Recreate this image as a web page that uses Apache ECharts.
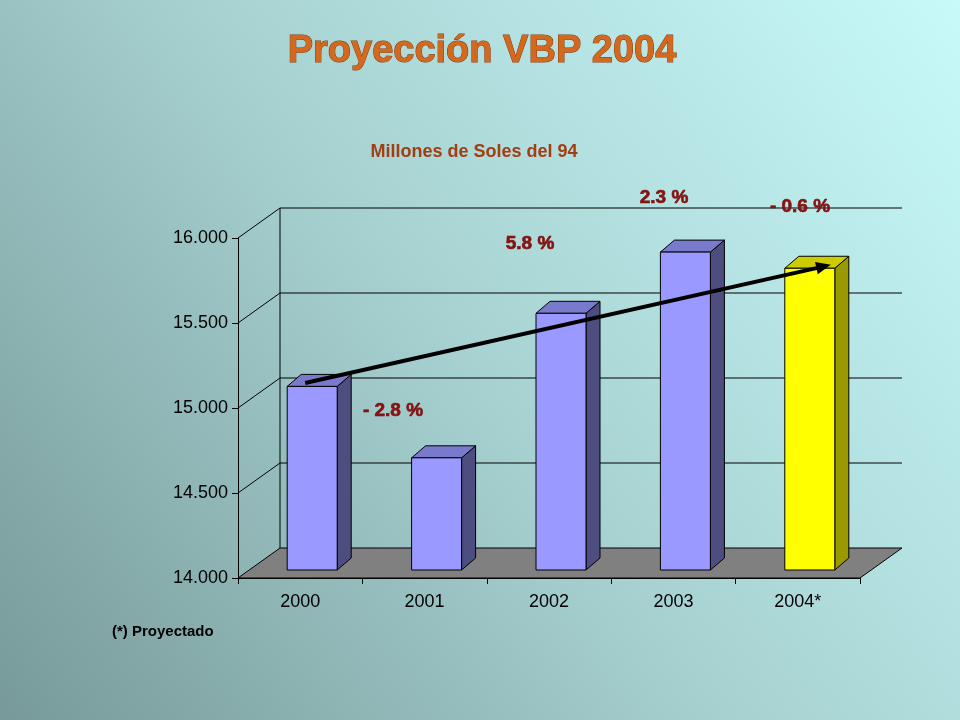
<!DOCTYPE html><html><head><meta charset="utf-8">
<script src="https://cdn.jsdelivr.net/npm/echarts@6/dist/echarts.min.js"></script>
<style>html,body{margin:0;padding:0}#c{width:960px;height:720px}</style></head><body><div id="c"></div>
<script>
const categories=['2000','2001','2002','2003','2004*'];
const values=[15080,14660,15510,15870,15775];
const pctLabels=['- 2.8 %','5.8 %','2.3 %','- 0.6 %'];
const arrowValues=[15100,15795];
const yTicks=[14000,14500,15000,15500,16000];
const chart=echarts.init(document.getElementById('c'));
const DX=42,DY=-30,BX=14,BY=-12,SH=-8;
function wall(params,api){
  const ch=[];
  const x0=api.coord([0,14000])[0]-api.size([1,0])[0]/2;
  const x1=x0+api.size([1,0])[0]*5;
  yTicks.forEach(t=>{
    const y=api.coord([0,t])[1];
    if(t>14000){
      ch.push({type:'polyline',shape:{points:[[x0,y],[x0+DX,y+DY],[x1+DX,y+DY]]},style:{stroke:'#000',lineWidth:1,fill:null}});
    }
  });
  const yb=api.coord([0,14000])[1], yt=api.coord([0,16000])[1];
  ch.unshift({type:'polygon',shape:{points:[[x0,yb],[x1,yb],[x1+DX,yb+DY],[x0+DX,yb+DY]]},style:{fill:'#808080',stroke:'#000',lineWidth:1}});
  ch.push({type:'line',shape:{x1:x0+DX,y1:yb+DY,x2:x0+DX,y2:yt+DY},style:{stroke:'#000',lineWidth:1}});
  return {type:'group',children:ch};
}
function bar(params,api){
  const i=api.value(0),v=api.value(1);
  const c=api.coord([i,v]),b=api.coord([i,14000]);
  const w=50,x=c[0]-13,yt=c[1]+SH,yb=b[1]+SH;
  const yellow=i===4;
  const front=yellow?'#ffff00':'#9999ff',side=yellow?'#999900':'#4d4d80',top=yellow?'#cccc00':'#7a7acc';
  return {type:'group',children:[
    {type:'polygon',shape:{points:[[x+w,yt],[x+w+BX,yt+BY],[x+w+BX,yb+BY],[x+w,yb]]},style:{fill:side,stroke:'#000',lineWidth:1}},
    {type:'polygon',shape:{points:[[x,yt],[x+BX,yt+BY],[x+w+BX,yt+BY],[x+w,yt]]},style:{fill:top,stroke:'#000',lineWidth:1}},
    {type:'rect',shape:{x:x,y:yt,width:w,height:yb-yt},style:{fill:front,stroke:'#000',lineWidth:1}}
  ]};
}
function arrow(params,api){
  const a=api.coord([0,arrowValues[0]]),b=api.coord([4,arrowValues[1]]);
  const p1=[a[0]+5,a[1]+SH],p2=[b[0]+33,b[1]+SH];
  const ang=Math.atan2(p2[1]-p1[1],p2[0]-p1[0]),L=16,s=0.4;
  return {type:'group',children:[
    {type:'line',shape:{x1:p1[0],y1:p1[1],x2:p2[0]-8*Math.cos(ang),y2:p2[1]-8*Math.sin(ang)},style:{stroke:'#000',lineWidth:4}},
    {type:'polygon',shape:{points:[p2,[p2[0]-L*Math.cos(ang-s),p2[1]-L*Math.sin(ang-s)],[p2[0]-L*Math.cos(ang+s),p2[1]-L*Math.sin(ang+s)]]},style:{fill:'#000'}}
  ]};
}
const pctStyle={fill:'#8b1010',font:'bold 19px Arial, "Liberation Sans"',stroke:'#6a0a0a',lineWidth:0.6,textShadowColor:'rgba(40,20,20,0.55)',textShadowOffsetX:2,textShadowOffsetY:2,textShadowBlur:0,textAlign:'center',textVerticalAlign:'middle'};
const pctPos=[[393,411],[530,244],[664,198],[800,207]];
chart.setOption({
  backgroundColor:{type:'linear',x:1,y:0,x2:0,y2:1,colorStops:[{offset:0,color:'#c8fafa'},{offset:0.5,color:'#a8d2d2'},{offset:1,color:'#779999'}]},
  animation:false,
  grid:{left:238,right:100,top:238,bottom:142},
  xAxis:{type:'category',data:categories,axisLine:{lineStyle:{color:'#000'}},axisTick:{show:true,length:6,lineStyle:{color:'#000'}},
    axisLabel:{color:'#000',fontSize:18,fontFamily:'Arial, "Liberation Sans"',margin:15}},
  yAxis:{type:'value',min:14000,max:16000,interval:500,splitLine:{show:false},
    axisLine:{show:true,lineStyle:{color:'#000'}},axisTick:{show:true,length:6,lineStyle:{color:'#000'}},
    axisLabel:{color:'#000',fontSize:18,fontFamily:'Arial, "Liberation Sans"',margin:10,formatter:v=>v.toLocaleString('de-DE')}},
  series:[
    {type:'custom',renderItem:wall,data:[[0,14000]],z:1,silent:true},
    {type:'custom',renderItem:bar,data:values.map((v,i)=>[i,v]),z:2},
    {type:'custom',renderItem:arrow,data:[[0,arrowValues[0]]],z:3,silent:true}
  ],
  graphic:[
    {type:'text',x:482,y:52,style:{text:'Proyección VBP 2004',fill:'#d2691e',stroke:'#8a3a10',lineWidth:1,font:'bold 38px Arial, "Liberation Sans"',textAlign:'center',textVerticalAlign:'middle',textShadowColor:'rgba(60,40,20,0.6)',textShadowOffsetX:3,textShadowOffsetY:3}},
    {type:'text',x:474,y:152,style:{text:'Millones de Soles del 94',fill:'#a33d12',font:'bold 18px Arial, "Liberation Sans"',textAlign:'center',textVerticalAlign:'middle'}},
    {type:'text',x:112,y:632,style:{text:'(*) Proyectado',fill:'#000',font:'bold 15px Arial, "Liberation Sans"',textVerticalAlign:'middle'}}
  ].concat(pctLabels.map((t,i)=>({type:'text',x:pctPos[i][0],y:pctPos[i][1],z:10,style:Object.assign({text:t},pctStyle)})))
});
</script></body></html>
